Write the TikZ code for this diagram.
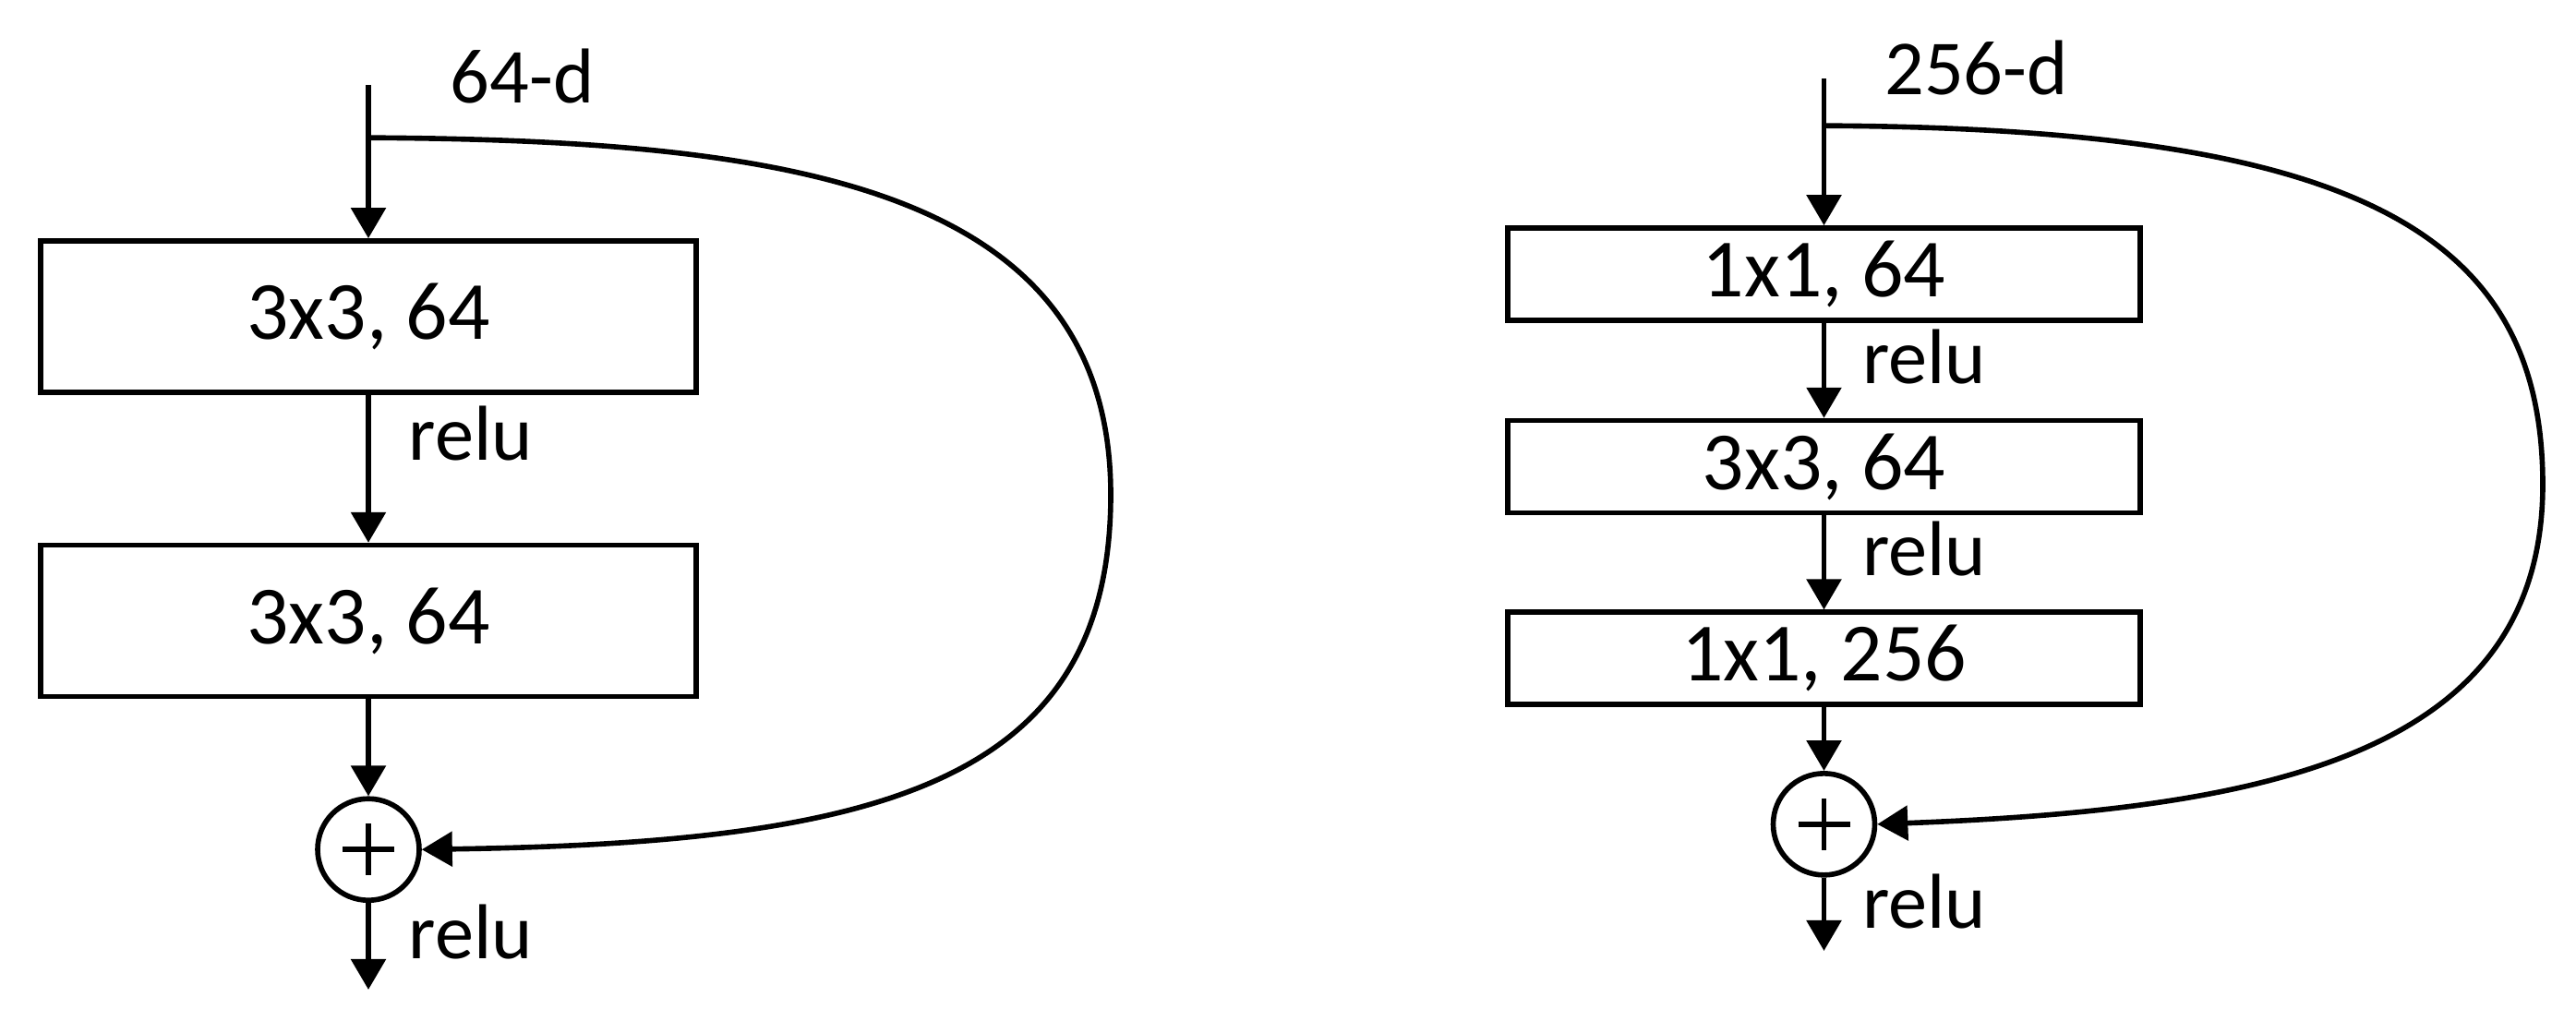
\documentclass[tikz,border=0pt]{standalone}
\usepackage{fontspec}
\setmainfont{Carlito}
\usetikzlibrary{positioning,arrows.meta}
\tikzset{>={Triangle[length=0.33cm,width=0.37cm]}}
\tikzset{block/.style={draw,rectangle,line width=1.6pt,inner sep=0pt,font=\fontsize{25.5}{30}\selectfont},
         sum/.style={draw,circle,line width=1.6pt,inner sep=0pt,minimum size=1.1cm,
           path picture={\draw[line width=1.6pt] ([xshift=-0.28cm]path picture bounding box.center) -- ([xshift=0.28cm]path picture bounding box.center)
             ([yshift=-0.28cm]path picture bounding box.center) -- ([yshift=0.28cm]path picture bounding box.center);}},
         lbl/.style={inner sep=0pt,font=\fontsize{24}{28}\selectfont}}

\begin{document}
\begin{tikzpicture}[line width=1.6pt]
                   \useasboundingbox (0,0) rectangle (27.9,11.06);
                   % left: basic block
                   \node[block,minimum width=7.1cm,minimum height=1.64cm] (convLa) at (3.99,7.63) {3x3, 64};
                   \node[block,minimum width=7.1cm,minimum height=1.64cm] (convLb) [below=1.6cm of convLa] {3x3, 64};
                   \node[sum] (sumL) [below=1.05cm of convLb] {};
                   \coordinate (inL) at ([yshift=1.66cm]convLa.north);
                   \coordinate (splitL) at ([yshift=1.09cm]convLa.north);
                   \coordinate (outL) at (sumL.center |- 0,0.34);
                   \node[lbl,anchor=west] (dimL) at ([xshift=0.86cm,yshift=0.1cm]inL) {64-d};
                    \path[->]
                    (inL) edge (convLa)
                    (convLa) edge node[lbl,pos=.26,right=0.41cm] (reluLa) {relu} (convLb)
                    (convLb) edge (sumL)
                    (sumL) edge node[lbl,pos=.34,right=0.41cm] (reluLb) {relu} (outL)
                    ;
                    \draw[->] (splitL) .. controls (8.5,9.54) and (12.03,9.06) .. (12.03,5.70)
                              .. controls (12.03,2.56) and (9.5,1.93) .. (sumL.east);
                   % right: bottleneck block
                   \node[block,minimum width=6.85cm,minimum height=1.0cm] (convRa) at (19.755,8.09) {1x1, 64};
                   \node[block,minimum width=6.85cm,minimum height=1.0cm] (convRb) [below=1.03cm of convRa] {3x3, 64};
                   \node[block,minimum width=6.85cm,minimum height=1.0cm] (convRc) [below=1.02cm of convRb] {1x1, 256};
                   \node[sum] (sumR) [below=0.69cm of convRc] {};
                   \coordinate (inR) at ([yshift=1.59cm]convRa.north);
                   \coordinate (splitR) at ([yshift=1.08cm]convRa.north);
                   \coordinate (outR) at (sumR.center |- 0,0.76);
                   \node[lbl,anchor=west] (dimR) at ([xshift=0.63cm,yshift=0.12cm]inR) {256-d};
                    \path[->]
                    (inR) edge (convRa)
                    (convRa) edge node[lbl,pos=.36,right=0.39cm] (reluRa) {relu} (convRb)
                    (convRb) edge node[lbl,pos=.35,right=0.39cm] (reluRb) {relu} (convRc)
                    (convRc) edge (sumR)
                    (sumR) edge node[lbl,pos=.33,right=0.39cm] (reluRc) {relu} (outR)
                    ;
                    \draw[->] (splitR) .. controls (25.5,9.67) and (27.54,8.56) .. (27.54,5.81)
                              .. controls (27.54,2.86) and (24.5,2.29) .. (sumR.east);
                \end{tikzpicture}
\end{document}
